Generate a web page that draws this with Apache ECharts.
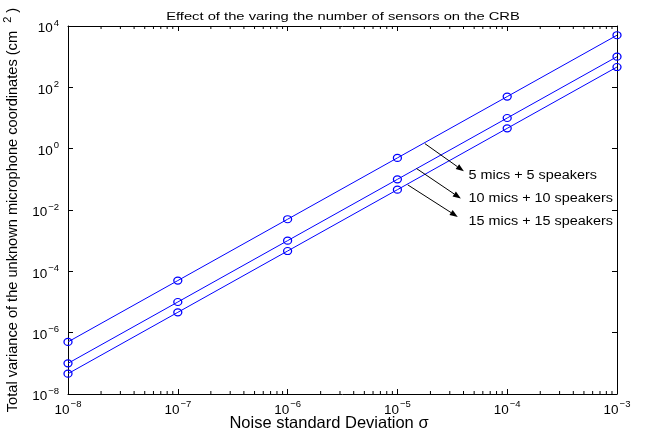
<!DOCTYPE html>
<html>
<head>
<meta charset="utf-8">
<script src="https://cdn.jsdelivr.net/npm/echarts@6/dist/echarts.min.js"></script>
<style>
html, body { margin: 0; padding: 0; background: #fff; }
#chart { width: 646px; height: 436px; }
</style>
</head>
<body>
<div id="chart"></div>
<script>
// noise std (x) and CRB total variance (y) for each sensor count
var noiseStd = [1e-8, 1e-7, 1e-6, 1e-5, 1e-4, 1e-3];
var crb5 = [5e-7, 5e-5, 5e-3, 5e-1, 5e1, 5e3];
var crb10 = [1e-7, 1e-5, 1e-3, 1e-1, 1e1, 1e3];
var crb15 = [4.6e-8, 4.6e-6, 4.6e-4, 4.6e-2, 4.6, 4.6e2];
var seriesNames = ['5 mics + 5 speakers', '10 mics + 10 speakers', '15 mics + 15 speakers'];

// arrow annotations, log10 of data coords: [fromX, fromY, toX, toY, textX, textY]
var arrows = [
  [-4.750, 0.165, -4.394, -0.738, -4.352, -0.894],
  [-4.826, -0.648, -4.422, -1.625, -4.352, -1.633],
  [-4.906, -1.180, -4.450, -2.225, -4.352, -2.368]
];

var FONT = '"Liberation Sans", Arial, sans-serif';
var BLUE = '#0000ff';

// minor log ticks on the x axis (2..9 per decade)
var minorX = [];
for (var d = -8; d < -3; d++) {
  for (var k = 2; k <= 9; k++) minorX.push([k * Math.pow(10, d), 1e-8]);
}

function pow10Label(v) {
  var e = Math.round(Math.log(v) / Math.LN10);
  return '{b|10}{s|' + (e < 0 ? '\u2212' + (-e) : e) + '}';
}
var richTick = {
  b: { fontSize: 13.5, fontFamily: FONT, color: '#000', padding: [5, 0, 0, 0] },
  s: { fontSize: 9.5, fontFamily: FONT, color: '#000', padding: [0, 0, 6, 1] }
};

function toPairs(ys) {
  return noiseStd.map(function (x, i) { return [x, ys[i]]; });
}

var chart = echarts.init(document.getElementById('chart'));

var lineBase = {
  type: 'line',
  xAxisIndex: 0,
  yAxisIndex: 0,
  symbol: 'circle',
  symbolSize: [8, 7],
  lineStyle: { color: BLUE, width: 1 },
  itemStyle: { color: 'rgba(0,0,0,0)', borderColor: BLUE, borderWidth: 1.2 },
  emphasis: { disabled: true },
  z: 5
};

chart.setOption({
  animation: false,
  grid: { left: 68, right: 29, top: 26, bottom: 42, show: false, outerBoundsMode: 'none', containLabel: false },
  xAxis: [{
    type: 'log', logBase: 10, min: 1e-8, max: 1e-3,
    position: 'bottom',
    name: 'Noise standard Deviation \u03c3',
    nameLocation: 'middle', nameGap: 20.5, nameMoveOverlap: false,
    nameTextStyle: { fontSize: 16.5, fontFamily: FONT, color: '#000', padding: [0, 27, 0, 0] },
    axisLine: { lineStyle: { color: '#000', width: 1 } },
    axisTick: { inside: true, length: 5, lineStyle: { color: '#000' } },
    axisLabel: { formatter: pow10Label, rich: richTick, margin: 4 },
    splitLine: { show: false }
  }, {
    type: 'log', logBase: 10, min: 1e-8, max: 1e-3,
    position: 'top',
    axisLine: { lineStyle: { color: '#000', width: 1 } },
    axisTick: { inside: true, length: 5, lineStyle: { color: '#000' } },
    axisLabel: { show: false },
    splitLine: { show: false }
  }],
  yAxis: [{
    type: 'log', logBase: 10, min: 1e-8, max: 1e4, interval: 2,
    position: 'left',
    name: 'Total variance of the unknown microphone coordinates (cm  {sup|2} )',
    nameLocation: 'middle', nameGap: 45.5, nameMoveOverlap: false,
    nameTextStyle: {
      fontSize: 14.6, fontFamily: FONT, color: '#000',
      rich: { sup: { fontSize: 11, fontFamily: FONT, color: '#000', padding: [0, 0, 9, 0] } }
    },
    axisLine: { lineStyle: { color: '#000', width: 1 } },
    axisTick: { inside: true, length: 5, lineStyle: { color: '#000' } },
    axisLabel: { formatter: pow10Label, rich: richTick, margin: 9 },
    splitLine: { show: false }
  }, {
    type: 'log', logBase: 10, min: 1e-8, max: 1e4, interval: 2,
    position: 'right',
    axisLine: { lineStyle: { color: '#000', width: 1 } },
    axisTick: { inside: true, length: 5, lineStyle: { color: '#000' } },
    axisLabel: { show: false },
    splitLine: { show: false }
  }],
  series: [
    Object.assign({ name: seriesNames[0], data: toPairs(crb5) }, lineBase),
    Object.assign({ name: seriesNames[1], data: toPairs(crb10) }, lineBase),
    Object.assign({ name: seriesNames[2], data: toPairs(crb15) }, lineBase),
    {
      type: 'custom',
      xAxisIndex: 0, yAxisIndex: 0,
      silent: true,
      clip: false,
      data: minorX,
      renderItem: function (params, api) {
        var p = api.coord([api.value(0), 1e-8]);
        var top = api.coord([api.value(0), 1e4]);
        return {
          type: 'group',
          children: [
            { type: 'line', shape: { x1: p[0], y1: p[1], x2: p[0], y2: p[1] - 3 }, style: { stroke: '#000', lineWidth: 1 } },
            { type: 'line', shape: { x1: top[0], y1: top[1], x2: top[0], y2: top[1] + 3 }, style: { stroke: '#000', lineWidth: 1 } }
          ]
        };
      }
    }
  ]
});

// title and arrow annotations placed through the axes
var graphics = [{
  type: 'text',
  x: 343, y: 16.5,
  scaleX: 1.34,
  style: {
    text: 'Effect of the varing the number of sensors on the CRB',
    font: '11px ' + FONT, fill: '#000', textAlign: 'center', textVerticalAlign: 'middle'
  }
}];
function px(lx, ly) {
  return chart.convertToPixel({ gridIndex: 0 }, [Math.pow(10, lx), Math.pow(10, ly)]);
}
arrows.forEach(function (a, i) {
  var p0 = px(a[0], a[1]);
  var p1 = px(a[2], a[3]);
  var pt = px(a[4], a[5]);
  var ang = Math.atan2(p1[1] - p0[1], p1[0] - p0[0]);
  var L = 8, W = 3;
  var bx = p1[0] - L * Math.cos(ang), by = p1[1] - L * Math.sin(ang);
  var nx = -Math.sin(ang), ny = Math.cos(ang);
  graphics.push({
    type: 'line',
    shape: { x1: p0[0], y1: p0[1], x2: bx, y2: by },
    style: { stroke: '#000', lineWidth: 1 }, z: 10
  });
  graphics.push({
    type: 'polygon',
    shape: { points: [[p1[0], p1[1]], [bx + nx * W, by + ny * W], [bx - nx * W, by - ny * W]] },
    style: { fill: '#000' }, z: 10
  });
  graphics.push({
    type: 'text',
    x: pt[0], y: pt[1],
    scaleX: 1.2,
    style: { text: seriesNames[i], font: '12px ' + FONT, fill: '#000', textVerticalAlign: 'middle' },
    z: 10
  });
});
chart.setOption({ graphic: graphics });
</script>
</body>
</html>
